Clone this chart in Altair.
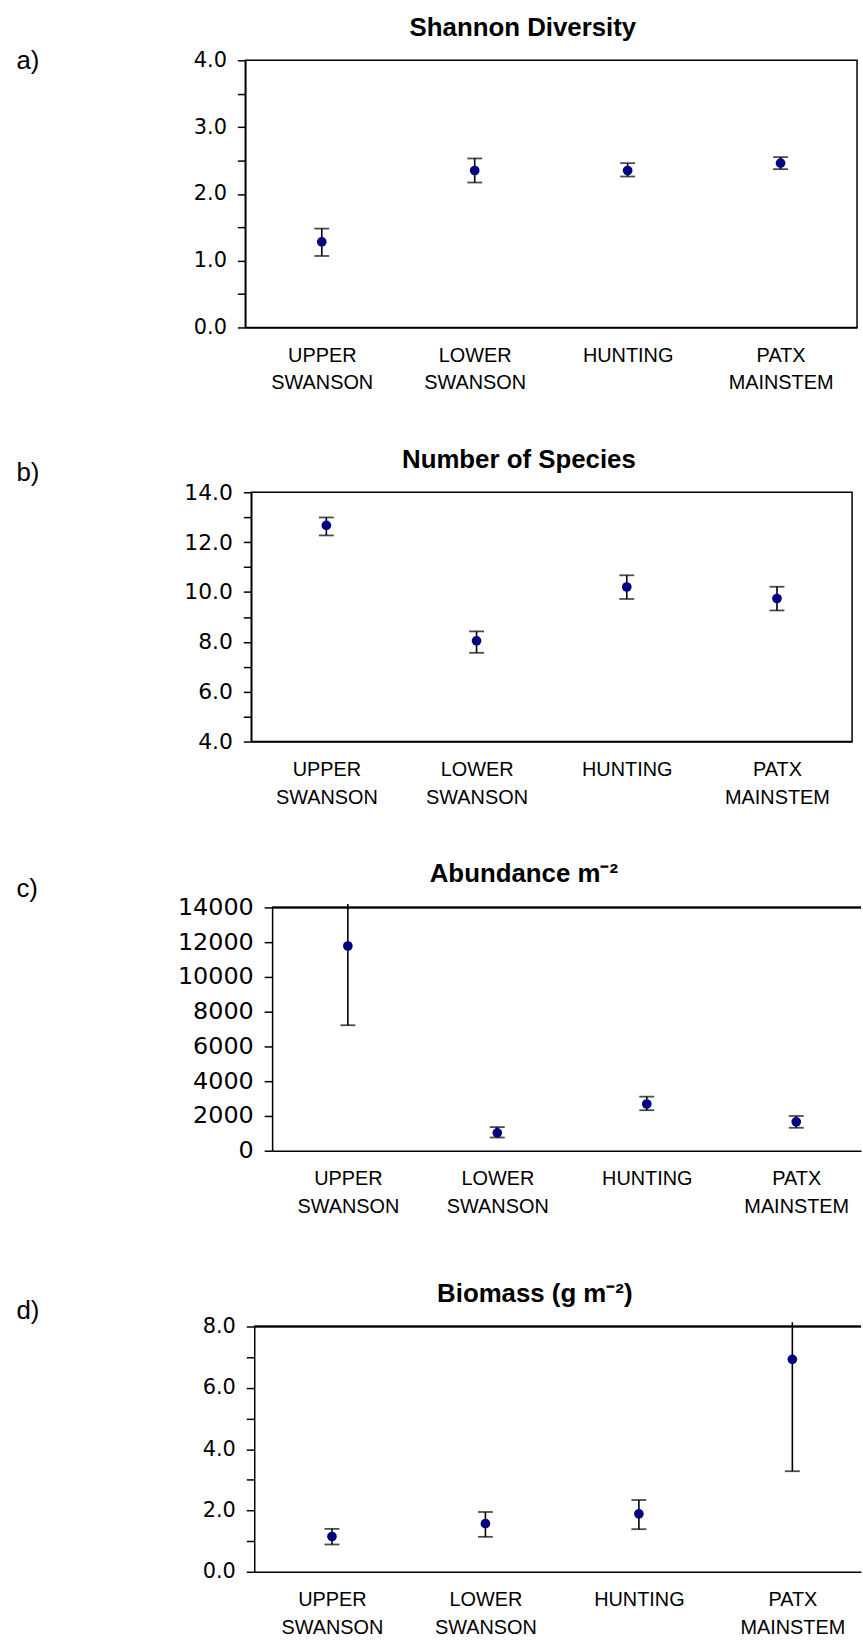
import altair as alt
import pandas as pd

categories = ["UPPER SWANSON", "LOWER SWANSON", "HUNTING", "PATX MAINSTEM"]

# a) Shannon diversity
a_mean = [1.28, 2.35, 2.35, 2.46]
a_lo = [1.07, 2.17, 2.26, 2.37]
a_hi = [1.48, 2.53, 2.46, 2.55]
a_cap_hi = [True, True, True, True]

# b) Number of species
b_mean = [12.67, 8.04, 10.20, 9.74]
b_lo = [12.27, 7.56, 9.72, 9.26]
b_hi = [12.99, 8.42, 10.67, 10.21]
b_cap_hi = [True, True, True, True]

# c) Abundance m-2
c_mean = [11780, 1030, 2690, 1660]
c_lo = [7220, 760, 2330, 1320]
c_hi = [14200, 1360, 3110, 2000]
c_cap_hi = [False, True, True, True]

# d) Biomass (g m-2)
d_mean = [1.15, 1.57, 1.89, 6.93]
d_lo = [0.89, 1.14, 1.39, 3.28]
d_hi = [1.40, 1.95, 2.34, 8.14]
d_cap_hi = [True, True, True, False]

a_ticks = [0, 0.5, 1, 1.5, 2, 2.5, 3, 3.5, 4]
b_ticks = [4, 5, 6, 7, 8, 9, 10, 11, 12, 13, 14]
c_ticks = [0, 2000, 4000, 6000, 8000, 10000, 12000, 14000]
d_ticks = [0, 1, 2, 3, 4, 5, 6, 7, 8]

SANS = "Liberation Sans"
NUMF = "DejaVu Sans"
NAVY = "#000080"
LEFT = 12  # page x of the panel letters


def panel(title, letter, mean, lo, hi, cap_hi, domain, ticks, label_expr,
          tick_font, plot_left, plot_top, width, height, x_pad, x_align,
          letter_base, title_center, title_base, boxed):
    df = pd.DataFrame({"site": categories, "mean": mean, "lo": lo, "hi": hi})
    caps = pd.DataFrame({"site": categories + categories,
                         "v": lo + hi,
                         "show": [True] * 4 + cap_hi})
    caps = caps[caps["show"]].drop(columns="show")

    xscale = alt.Scale(type="point", padding=x_pad, align=x_align)
    xaxis = alt.Axis(
        title=title, titleFont=SANS, titleFontSize=26, titleFontWeight="bold",
        titleColor="black", titleX=title_center - plot_left,
        titleY=title_base - (plot_top + height), titleAlign="center",
        titleBaseline="alphabetic", titleAngle=0,
        labelExpr="split(datum.label, ' ')", labelFont=SANS, labelFontSize=20,
        labelLineHeight=28, labelColor="black", labelAngle=0, labelPadding=18,
        labelOverlap=False, ticks=False, domainColor="black", domainWidth=1.5,
        grid=False)
    yscale = alt.Scale(domain=domain, nice=False, zero=False)
    yaxis = alt.Axis(
        values=ticks, labelExpr=label_expr, labelFont=NUMF,
        labelFontSize=tick_font, labelColor="black", labelPadding=11,
        labelOverlap=False, tickSize=8, tickColor="black", tickWidth=1.5,
        domainColor="black", domainWidth=1.5, grid=False,
        title=letter, titleFont=SANS, titleFontSize=26, titleFontWeight="normal",
        titleColor="black", titleAngle=0, titleAlign="left",
        titleBaseline="alphabetic", titleX=LEFT - plot_left,
        titleY=letter_base - plot_top)

    X = alt.X("site:N", sort=categories, scale=xscale, axis=xaxis)

    base = alt.Chart(df)
    bars = base.mark_rule(color="black", strokeWidth=1.6).encode(
        x=X, y=alt.Y("lo:Q", scale=yscale, axis=yaxis), y2="hi:Q")
    capm = alt.Chart(caps).mark_tick(color="black", size=15, thickness=1.8).encode(
        x=X, y=alt.Y("v:Q", scale=yscale, axis=yaxis))
    pts = base.mark_circle(color=NAVY, opacity=1, size=95).encode(
        x=X, y=alt.Y("mean:Q", scale=yscale, axis=yaxis))

    layers = [bars, capm, pts]
    props = dict(width=width, height=height)
    if boxed:
        props["view"] = alt.ViewBackground(stroke="black", strokeWidth=1.5)
    else:
        top = alt.Chart(df).mark_rule(color="black", strokeWidth=1.5).encode(
            y=alt.Y(datum=domain[1], scale=yscale, axis=yaxis))
        layers = [top] + layers
    chart = alt.layer(*layers).properties(**props)

    # invisible spacer that sets how far the plot sits from the panel letter
    spacer = alt.Chart(pd.DataFrame({"s": [0]})).mark_point(opacity=0).encode(
        x=alt.value(0), y=alt.value(0)
    ).properties(width=plot_left - LEFT, height=height)
    return alt.hconcat(spacer, chart, spacing=0, bounds="flush")


lab1 = "datum.value % 1 === 0 ? format(datum.value, '.1f') : ''"
lab2 = "datum.value % 2 === 0 ? format(datum.value, '.1f') : ''"
labc = "format(datum.value, 'd')"

ra = panel("Shannon Diversity", "a)", a_mean, a_lo, a_hi, a_cap_hi, [0, 4],
           a_ticks, lab1, 21, 243, 58, 616, 269, 0.5, 0.5, 66, 522, 33, True)
rb = panel("Number of Species", "b)", b_mean, b_lo, b_hi, b_cap_hi, [4, 14],
           b_ticks, lab2, 22, 249, 491, 605, 251, 0.5, 0.5, 479, 518, 466, True)
rc = panel("Abundance m\u207b\u00b2", "c)", c_mean, c_lo, c_hi, c_cap_hi,
           [0, 14000], c_ticks, labc, 24, 270, 908, 593, 245, 0.47, 0.539,
           897, 523, 882, False)
rd = panel("Biomass (g m\u207b\u00b2)", "d)", d_mean, d_lo, d_hi, d_cap_hi,
           [0, 8], d_ticks, lab2, 21, 252, 1325, 611, 247, 0.477, 0.531,
           1317, 534, 1300, False)

chart = alt.vconcat(
    alt.vconcat(ra, rb, rc, spacing=52),
    rd,
    spacing=63,
).properties(
    padding={"left": LEFT, "top": 8, "right": 0, "bottom": 0}
).configure(background="white").configure_view(stroke="transparent")

chart.save("out.html", embed_options={"renderer": "svg", "actions": False})
